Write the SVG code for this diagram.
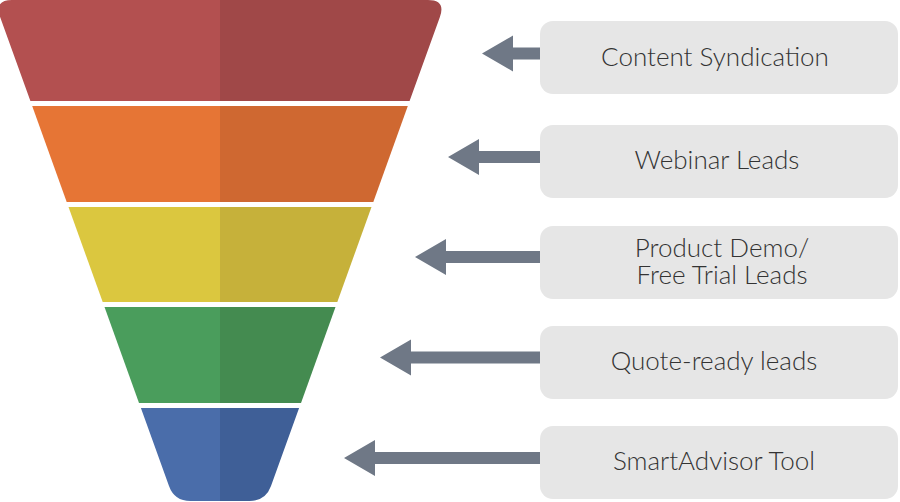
<svg xmlns="http://www.w3.org/2000/svg" width="900" height="502" viewBox="0 0 900 502">
<style>
.box{fill:#E6E6E6}
.lbl{font-family:"Lato","Open Sans","Liberation Sans",sans-serif;font-weight:300;font-size:26px;fill:#333333;text-anchor:middle}
.arr{fill:#6F7886}
</style>
<rect width="900" height="502" fill="#FFFFFF"/>
<g id="funnel">
<g id="band-red">
<path d="M0.1 16.9 Q-6 0 12 0 L220 0 L220 101 L30.4 101 Z" fill="#B35050"/>
<path d="M220 0 L428 0 Q446 0 439.9 16.9 L409.6 101 L220 101 Z" fill="#A04848"/>
</g>
<g id="band-orange">
<path d="M32.2 106 L220 106 L220 202 L66.7 202 Z" fill="#E67535"/>
<path d="M220 106 L407.8 106 L373.3 202 L220 202 Z" fill="#CF6831"/>
</g>
<g id="band-yellow">
<path d="M68.5 207 L220 207 L220 302 L102.7 302 Z" fill="#DBC73F"/>
<path d="M220 207 L371.5 207 L337.3 302 L220 302 Z" fill="#C6B13A"/>
</g>
<g id="band-green">
<path d="M104.5 307 L220 307 L220 403 L139 403 Z" fill="#4A9D5C"/>
<path d="M220 307 L335.5 307 L301 403 L220 403 Z" fill="#448B50"/>
</g>
<g id="band-blue">
<path d="M140.9 408 L220 408 L220 501 L190.4 501 Q174.4 501 169 486 Z" fill="#4A6DAA"/>
<path d="M220 408 L299.1 408 L271 486 Q265.6 501 249.6 501 L220 501 Z" fill="#3F5F97"/>
</g>
</g>
<g id="connectors">
<polygon class="arr" points="482,53.5 513,35.5 513,47.5 541,47.5 541,59.5 513,59.5 513,71.5"/>
<polygon class="arr" points="448,157 479,139 479,151 541,151 541,163 479,163 479,175"/>
<polygon class="arr" points="415,257 446,239 446,251 541,251 541,263 446,263 446,275"/>
<polygon class="arr" points="380,357.5 411,339.5 411,351.5 541,351.5 541,363.5 411,363.5 411,375.5"/>
<polygon class="arr" points="344,458 375,440 375,452 541,452 541,464 375,464 375,476"/>
</g>
<g id="node-content-syndication">
<rect class="box" x="540" y="21" width="358" height="73" rx="13"/>
<text class="lbl" x="715" y="66">Content Syndication</text>
</g>
<g id="node-webinar-leads">
<rect class="box" x="540" y="125" width="358" height="73" rx="13"/>
<text class="lbl" x="717" y="169">Webinar Leads</text>
</g>
<g id="node-product-demo">
<rect class="box" x="540" y="226" width="358" height="73" rx="13"/>
<text class="lbl"><tspan x="722" y="257">Product Demo/</tspan><tspan x="722" y="284">Free Trial Leads</tspan></text>
</g>
<g id="node-quote-ready">
<rect class="box" x="540" y="326" width="358" height="73" rx="13"/>
<text class="lbl" x="714" y="370">Quote-ready leads</text>
</g>
<g id="node-smartadvisor">
<rect class="box" x="540" y="426" width="358" height="73" rx="13"/>
<text class="lbl" x="714" y="470">SmartAdvisor Tool</text>
</g>
</svg>
